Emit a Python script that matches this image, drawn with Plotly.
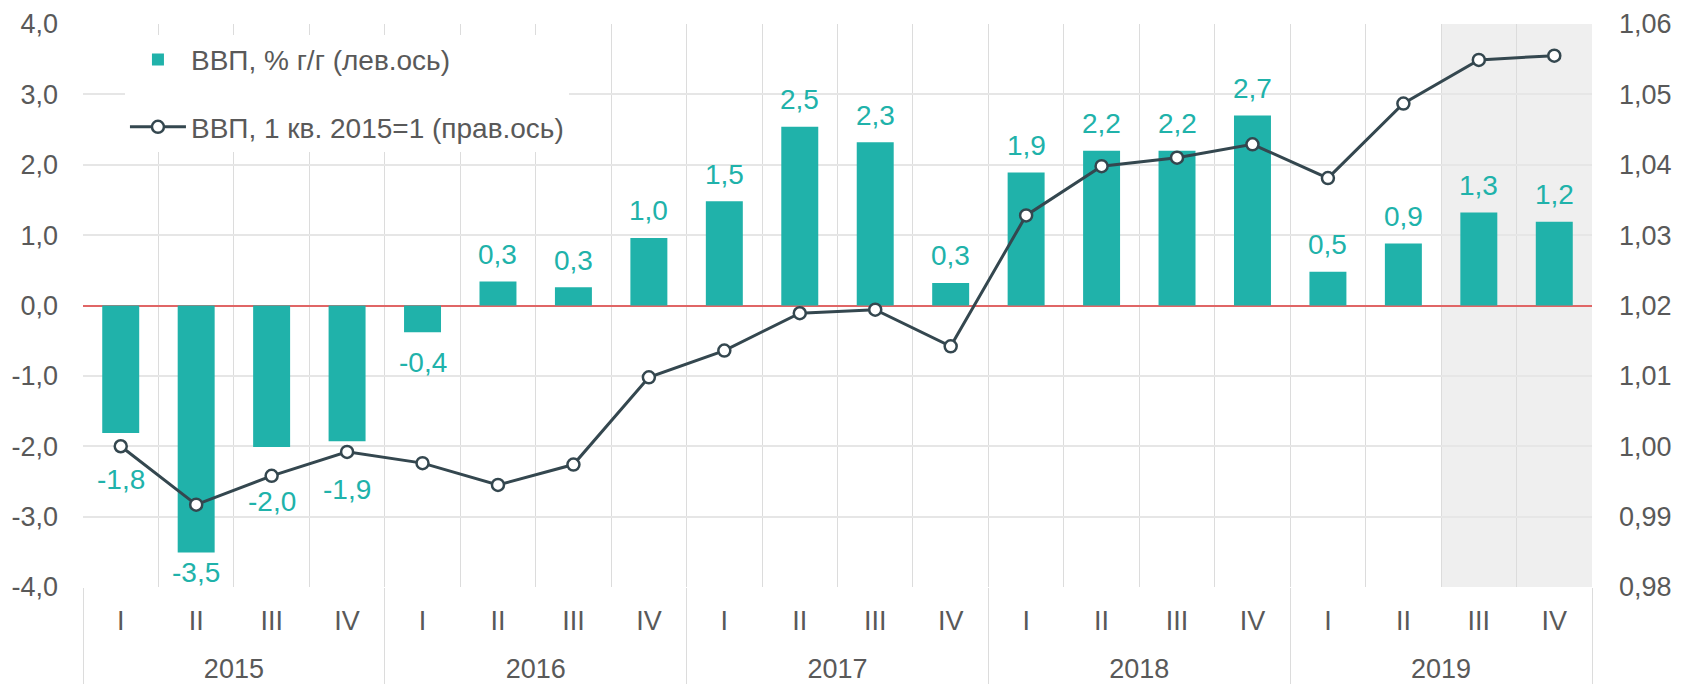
import plotly.graph_objects as go

# ---- data ----
years = ["2015"] * 4 + ["2016"] * 4 + ["2017"] * 4 + ["2018"] * 4 + ["2019"] * 4
quarters = ["I", "II", "III", "IV"] * 5
gdp_yoy = [-1.81, -3.51, -2.01, -1.93, -0.38, 0.34, 0.26, 0.96, 1.48, 2.54,
           2.32, 0.32, 1.89, 2.20, 2.20, 2.70, 0.48, 0.88, 1.32, 1.19]
gdp_index = [1.0000, 0.9917, 0.9958, 0.9992, 0.9976, 0.9945, 0.9974, 1.0098,
             1.0136, 1.0189, 1.0194, 1.0142, 1.0328, 1.0398, 1.0410, 1.0429,
             1.0381, 1.0487, 1.0549, 1.0555]
shaded = [("2019", "III"), ("2019", "IV")]
left_ticks = [-4, -3, -2, -1, 0, 1, 2, 3, 4]
right_ticks = [0.98, 0.99, 1.00, 1.01, 1.02, 1.03, 1.04, 1.05, 1.06]
name_bar = "ВВП, % г/г (лев.ось)"
name_line = "ВВП, 1 кв. 2015=1 (прав.ось)"

# style: distance (px) of each bar label centre from the bar end
label_gap = [47, 20, 55, 48, 30] + [27] * 15


def fmt(v, d):
    return f"{v:.{d}f}".replace(".", ",")


bar_labels = [fmt(v, 1) for v in gdp_yoy]
left_text = [fmt(v, 1) for v in left_ticks]
right_text = [fmt(v, 2) for v in right_ticks]

# category positions derived from the data
n = len(quarters)
pos = list(range(n))
xr = [-0.5, n - 0.5]
year_names = list(dict.fromkeys(years))
year_centers = [sum(i for i in pos if years[i] == y) / years.count(y) for y in year_names]
year_bounds = [-0.5] + [max(i for i in pos if years[i] == y) + 0.5 for y in year_names]
cat_bounds = [i - 0.5 for i in pos] + [n - 0.5]

TEAL = "#20b2aa"
DARK = "#34474f"
GREY = "#595959"
VGRID = "#dcdcdc"
FONT = "Liberation Sans, Arial, sans-serif"
FS = 27
FS_LBL = 28

fig = go.Figure()
fig.add_trace(go.Bar(
    x=pos, y=gdp_yoy, name=name_bar, legendgroup="a",
    marker=dict(color=TEAL, line=dict(width=0)),
    hoverinfo="skip",
))
fig.add_trace(go.Scatter(
    x=pos, y=gdp_index, name=name_line, legendgroup="b", yaxis="y2",
    mode="lines+markers",
    line=dict(color=DARK, width=3),
    marker=dict(symbol="circle", size=12, color="white",
                line=dict(color=DARK, width=2.5)),
    hoverinfo="skip",
))
# carrier for the year-level axis (invisible)
fig.add_trace(go.Scatter(
    x=year_centers, y=[0] * len(year_centers), xaxis="x3", mode="markers",
    marker=dict(opacity=0), showlegend=False, hoverinfo="skip",
))

for i, (v, t, g) in enumerate(zip(gdp_yoy, bar_labels, label_gap)):
    fig.add_annotation(x=pos[i], y=v, xref="x", yref="y", text=t,
                       showarrow=False, yanchor="middle",
                       yshift=g if v >= 0 else -g,
                       font=dict(color=TEAL, size=FS_LBL, family=FONT))

pairs = list(zip(years, quarters))
idx = [pairs.index(p) for p in shaded]
fig.add_shape(type="rect", xref="x", yref="paper",
              x0=min(idx) - 0.5, x1=max(idx) + 0.5, y0=0, y1=1,
              fillcolor="#efefef", line=dict(width=0), layer="below")

fig.update_layout(
    width=1682, height=676,
    margin=dict(l=75, r=98, t=16, b=97, autoexpand=False),
    paper_bgcolor="white", plot_bgcolor="white",
    separators=", ",
    font=dict(family=FONT, size=FS, color=GREY),
    bargap=0.51,
    showlegend=True,
    legend=dict(x=0.0278, y=0.981, xanchor="left", yanchor="top",
                bgcolor="white", borderwidth=0,
                traceorder="grouped", tracegroupgap=28,
                itemwidth=56,
                font=dict(size=28, color=GREY, family=FONT)),
    xaxis=dict(range=xr, tickvals=pos, ticktext=quarters,
               showgrid=False, ticks="", showline=False, zeroline=False,
               automargin=False, ticklabelstandoff=15,
               minor=dict(tickvals=cat_bounds, showgrid=True,
                          gridcolor=VGRID, gridwidth=1, ticks=""),
               tickfont=dict(size=FS, color=GREY, family=FONT)),
    xaxis3=dict(range=xr, overlaying="x", anchor="y", side="bottom",
                tickvals=year_centers, ticktext=year_names,
                showgrid=False, ticks="", showline=False, zeroline=False,
                automargin=False, ticklabelstandoff=63,
                minor=dict(tickvals=year_bounds, ticks="outside",
                           ticklen=97, tickcolor=VGRID, tickwidth=1,
                           showgrid=False),
                tickfont=dict(size=FS, color=GREY, family=FONT)),
    yaxis=dict(range=[-4, 4], tickvals=left_ticks, ticktext=left_text,
               showgrid=True, gridcolor="#e6e6e6", gridwidth=1.5,
               zeroline=True, zerolinecolor="#e06666", zerolinewidth=1.5,
               showline=False, ticks="", ticklabelstandoff=24,
               automargin=False,
               tickfont=dict(size=FS, color=GREY, family=FONT)),
    yaxis2=dict(range=[0.98, 1.06], tickvals=right_ticks, ticktext=right_text,
                overlaying="y", side="right", showgrid=False,
                zeroline=False, showline=False, ticks="",
                ticklabelstandoff=26, automargin=False,
                tickfont=dict(size=FS, color=GREY, family=FONT)),
)

fig.write_html("out.html")
